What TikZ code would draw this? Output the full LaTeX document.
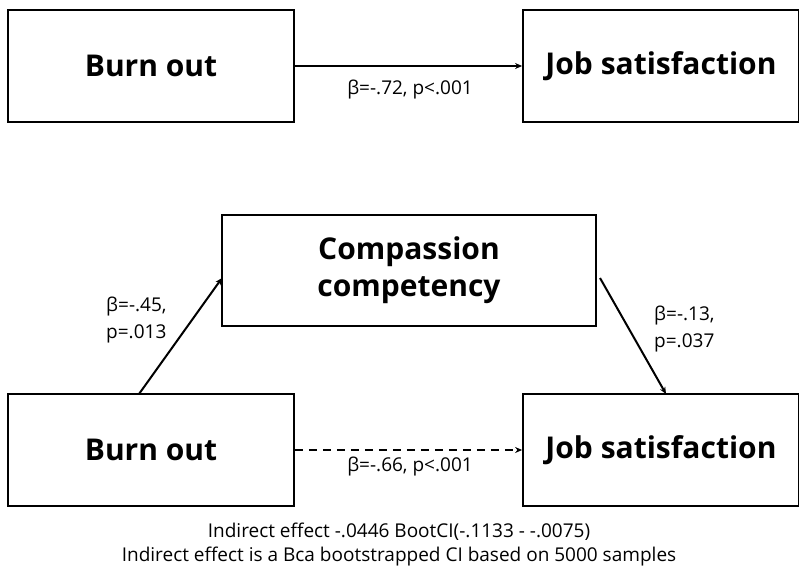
\documentclass[tikz,border=0pt]{standalone}
\usepackage{fontspec}
\setmainfont{Open Sans}
\usetikzlibrary{arrows.meta}
\begin{document}
\begin{tikzpicture}[x=1pt,y=-1pt,
  box/.style={draw,line width=1.8pt,minimum width=286pt,minimum height=112pt,font=\fontsize{30}{37}\selectfont\bfseries,align=center,inner sep=0pt},
  lab/.style={font=\fontsize{19}{27}\selectfont,inner sep=0pt},
  conn/.style={line width=2pt,-{Stealth[length=7pt,width=6pt]}}]
\path[use as bounding box] (0,0) rectangle (799,572);
\node[box] (b1) at (151,66) {Burn out};
\node[box,minimum width=276pt] (j1) at (661,66) {Job satisfaction};
\node[box,minimum width=374pt,minimum height=111pt] (c) at (409,270.5) {Compassion\\competency};
\node[box] (b2) at (151,450) {Burn out};
\node[box,minimum width=276pt] (j2) at (661,450) {Job satisfaction};
\draw[conn] (b1.east) -- (j1.west);
\draw[conn,dashed,dash pattern=on 8pt off 6pt] (b2.east) -- (j2.west);
\coordinate (a1s) at (139,394);
\coordinate (a1e) at (222,278);
\coordinate (a2s) at (600,278);
\coordinate (a2e) at (666,394);
\draw[conn] (a1s) -- (a1e);
\draw[conn] (a2s) -- (a2e);
\node[lab,anchor=north] (l1) at (410,80) {β=-.72, p<.001};
\node[lab,anchor=north] (l2) at (410,457) {β=-.66, p<.001};
\node[lab,anchor=west,align=left] (l3) at (106,320) {β=-.45,\\p=.013};
\node[lab,anchor=west,align=left] (l4) at (654,329) {β=-.13,\\p=.037};
\node[lab,align=center,font=\fontsize{19}{24}\selectfont] (n) at (399,545) {Indirect effect -.0446 BootCI(-.1133 - -.0075)\\Indirect effect is a Bca bootstrapped CI based on 5000 samples};
\end{tikzpicture}
\end{document}
